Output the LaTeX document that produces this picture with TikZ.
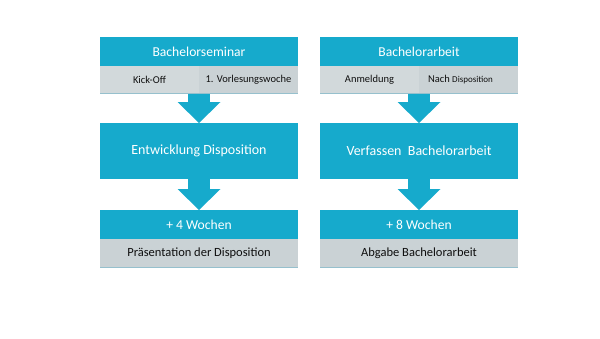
\documentclass[tikz,border=0pt]{standalone}
\usepackage{fontspec}
\setmainfont{Carlito}
\usepackage{xcolor}
\usetikzlibrary{arrows.meta,positioning}
\definecolor{tealblue}{RGB}{22,170,204}
\definecolor{greyA}{RGB}{210,217,219}
\definecolor{greyB}{RGB}{202,210,213}
\definecolor{greyline}{RGB}{150,192,205}
\definecolor{darktext}{RGB}{15,15,15}

\begin{document}
\begin{tikzpicture}[x=1pt,y=-1pt,
head/.style={fill=tealblue,text=white,inner sep=0pt,outer sep=0pt,minimum width=198pt,minimum height=29pt,font=\fontsize{13.6}{15}\selectfont},
mainbox/.style={head,minimum height=56pt,font=\fontsize{14}{16}\selectfont},
cellL/.style={fill=greyA,text=darktext,inner sep=0pt,outer sep=0pt,minimum width=99pt,minimum height=27pt,font=\fontsize{10.5}{12}\selectfont},
cellR/.style={cellL,fill=greyB},
foot/.style={cellL,fill=greyB,minimum width=198pt,minimum height=28pt,font=\fontsize{12.5}{14}\selectfont},
flow/.style={line width=22pt,tealblue,-{Triangle[length=21pt,width=43pt,line width=0pt]}},
edge/.style={greyline,line width=1pt}]
\useasboundingbox (0,0) rectangle (600,338);
% left column
\node[head] (t1) at (199,51.5) {Bachelorseminar};
\node[cellL,anchor=north west] (k1) at (t1.south west) {Kick-Off};
\node[cellR,right=0pt of k1] (v1) {1. Vorlesungswoche};
\node[mainbox,below=30pt of k1.south east] (m1) {Entwicklung Disposition};
\node[head,below=31pt of m1] (w1) {+ 4 Wochen};
\node[foot,below=0pt of w1] (p1) {Präsentation der Disposition};
% right column
\node[head,right=22pt of t1] (t2) {Bachelorarbeit};
\node[cellL,anchor=north west] (k2) at (t2.south west) {Anmeldung};
\node[cellR,right=0pt of k2] (v2) {\hspace{-16pt}Nach {\fontsize{9}{11}\selectfont Disposition}};
\node[mainbox,below=30pt of k2.south east] (m2) {Verfassen\ \ Bachelorarbeit};
\node[head,below=31pt of m2] (w2) {+ 8 Wochen};
\node[foot,below=0pt of w2] (p2) {Abgabe Bachelorarbeit};
% arrows
\draw[flow] (k1.south east) -- (m1.north);
\draw[flow] (m1.south) -- (w1.north);
\draw[flow] (k2.south east) -- (m2.north);
\draw[flow] (m2.south) -- (w2.north);
% bottom edges
\draw[edge] (k1.south west) -- (v1.south east);
\draw[edge] (k2.south west) -- (v2.south east);
\draw[edge] (p1.south west) -- (p1.south east);
\draw[edge] (p2.south west) -- (p2.south east);
\end{tikzpicture}
\end{document}
